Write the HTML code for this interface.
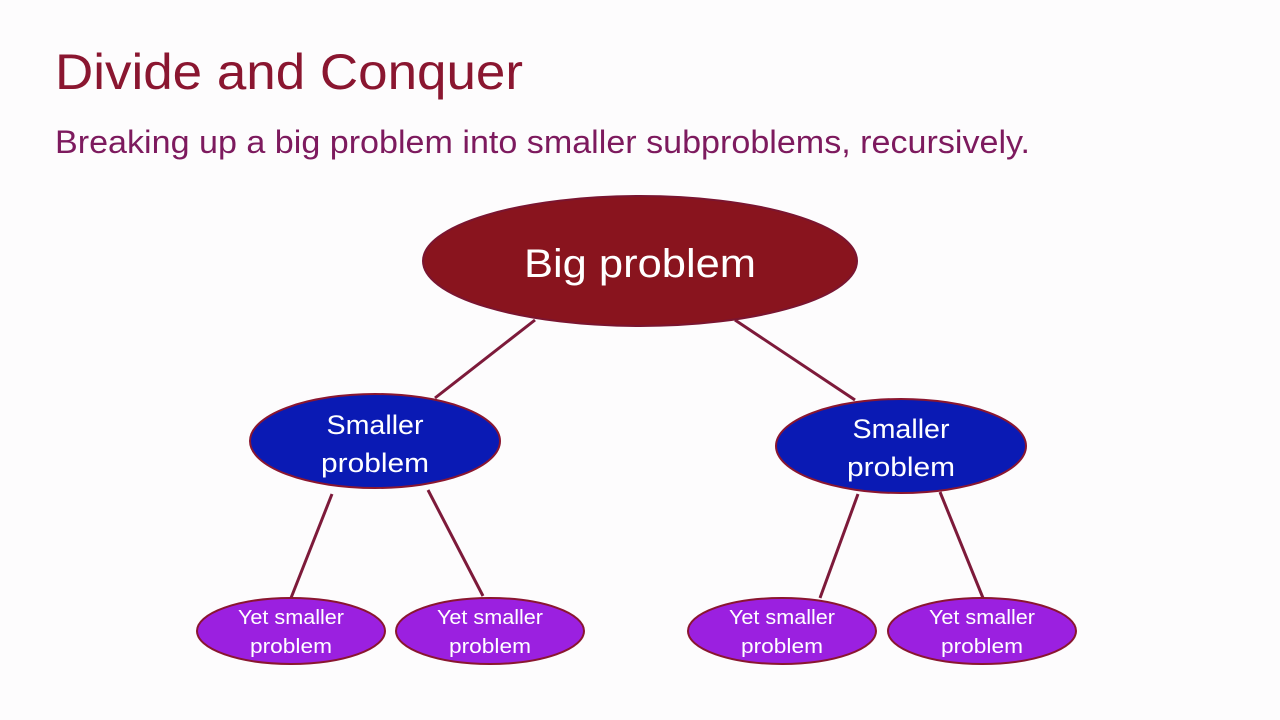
<!DOCTYPE html>
<html><head><meta charset="utf-8"><style>
html,body{margin:0;padding:0;background:#fdfcfd;}
svg{display:block;}
text{font-family:"Liberation Sans",sans-serif;}
</style></head><body>
<svg width="1280" height="720" viewBox="0 0 1280 720">
<rect width="1280" height="720" fill="#fdfcfd"/>
<text x="55" y="89" font-size="50" fill="#8a1630" textLength="468" lengthAdjust="spacingAndGlyphs">Divide and Conquer</text>
<text x="55" y="153" font-size="32" fill="#7d1a5e" textLength="975" lengthAdjust="spacingAndGlyphs">Breaking up a big problem into smaller subproblems, recursively.</text>
<g stroke="#7d1a3a" stroke-width="3">
<line x1="535" y1="320" x2="435" y2="398"/>
<line x1="735" y1="320" x2="855" y2="400"/>
<line x1="332" y1="494" x2="291" y2="598"/>
<line x1="428" y1="490" x2="483" y2="596"/>
<line x1="858" y1="494" x2="820" y2="598"/>
<line x1="940" y1="492" x2="983" y2="598"/>
</g>
<ellipse cx="640" cy="261" rx="217" ry="65" fill="#89141e" stroke="#7a1530" stroke-width="2"/>
<text x="640" y="277" font-size="40" fill="#fff" text-anchor="middle" textLength="232" lengthAdjust="spacingAndGlyphs">Big problem</text>
<g fill="#0a1ab4" stroke="#8a1630" stroke-width="2">
<ellipse cx="375" cy="441" rx="125" ry="47"/>
<ellipse cx="901" cy="446" rx="125" ry="47"/>
</g>
<g fill="#fff" font-size="27" text-anchor="middle">
<text x="375" y="434" textLength="97" lengthAdjust="spacingAndGlyphs">Smaller</text>
<text x="375" y="472" textLength="108" lengthAdjust="spacingAndGlyphs">problem</text>
<text x="901" y="438" textLength="97" lengthAdjust="spacingAndGlyphs">Smaller</text>
<text x="901" y="476" textLength="108" lengthAdjust="spacingAndGlyphs">problem</text>
</g>
<g fill="#9b20e0" stroke="#8a1630" stroke-width="2">
<ellipse cx="291" cy="631" rx="94" ry="33"/>
<ellipse cx="490" cy="631" rx="94" ry="33"/>
<ellipse cx="782" cy="631" rx="94" ry="33"/>
<ellipse cx="982" cy="631" rx="94" ry="33"/>
</g>
<g fill="#fff" font-size="20" text-anchor="middle">
<text x="291" y="624" textLength="106" lengthAdjust="spacingAndGlyphs">Yet smaller</text>
<text x="291" y="653" textLength="82" lengthAdjust="spacingAndGlyphs">problem</text>
<text x="490" y="624" textLength="106" lengthAdjust="spacingAndGlyphs">Yet smaller</text>
<text x="490" y="653" textLength="82" lengthAdjust="spacingAndGlyphs">problem</text>
<text x="782" y="624" textLength="106" lengthAdjust="spacingAndGlyphs">Yet smaller</text>
<text x="782" y="653" textLength="82" lengthAdjust="spacingAndGlyphs">problem</text>
<text x="982" y="624" textLength="106" lengthAdjust="spacingAndGlyphs">Yet smaller</text>
<text x="982" y="653" textLength="82" lengthAdjust="spacingAndGlyphs">problem</text>
</g>
</svg>
</body></html>
